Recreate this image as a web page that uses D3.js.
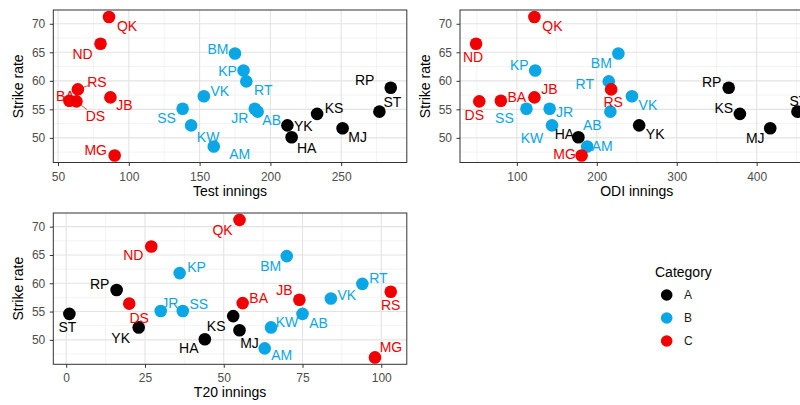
<!DOCTYPE html>
<html>
<head>
<meta charset="utf-8">
<script src="https://cdn.jsdelivr.net/npm/d3@7"></script>
<style>
  body { margin: 0; background: #fff; }
  svg { font-family: "Liberation Sans", Arial, sans-serif; display: block; }
</style>
</head>
<body>
<div id="container"></div>
<script>
// player data
const players    = ["QK","ND","BM","KP","RT","RP","RS","VK","JB","BA","DS","SS","JR","AB","ST","KS","YK","KW","MJ","HA","AM","MG"]
const category   = ["C","C","B","B","B","A","C","B","C","C","C","B","B","B","A","A","A","B","A","A","B","C"]
const strikeRate = [71.2,66.5,64.8,61.8,59.9,58.8,58.5,57.3,57.1,56.5,56.4,55.1,55.1,54.6,54.6,54.2,52.2,52.2,51.7,50.1,48.5,46.9]
const testInnings = [86,80,175,181,183,285,64,153,87,58,63,138,189,191,277,233,212,144,251,215,160,90]
const odiInnings  = [122,49,227,123,215,365,218,244,122,80,53,112,141,217,451,379,253,144,417,177,188,181]
const t20Innings  = [55,27,70,36,94,16,103,84,74,56,20,37,30,75,1,53,23,65,55,44,63,98]

const categories = ["A","B","C"]
const yTicks = [50,55,60,65,70]
const testTicks = [50,100,150,200,250]
const odiTicks = [100,200,300,400]
const t20Ticks = [0,25,50,75,100]

const colors = ["#000000","#0aa6e6","#f00000"]
const colorScale = d3.scaleOrdinal().domain(categories).range(colors)

// label offsets (px from the point centre), like the repelled labels
const testLabels = {QK:[18,9],ND:[-18,10],RS:[19,-7],BA:[-4,-5],DS:[19,15],JB:[14,8],MG:[-19,-6],
  BM:[-17,-4],KP:[-16,0],RT:[17,9],VK:[16,-5],SS:[-16,9],KW:[17,12],AM:[26,8],JR:[-15,9],AB:[14,8],
  YK:[16,1],HA:[15,11],KS:[17,-6],MJ:[15,9],ST:[13,-10],RP:[-26,-8]}
const odiLabels = {ND:[-3,13],DS:[-5,14],BA:[16,-4],QK:[18,9],JB:[15,-8],KP:[-16,-6],SS:[-22,9],
  JR:[15,3],KW:[-20,13],HA:[-14,-3],MG:[-17,-2],AM:[15,0],AB:[-18,13],RT:[-24,3],RS:[2,13],BM:[-17,10],
  VK:[16,9],YK:[16,9],RP:[-17,-6],KS:[-16,-6],MJ:[-15,10],ST:[1,-11]}
const t20Labels = {ST:[-2,13],RP:[-17,-6],DS:[10,14],YK:[-18,11],ND:[-18,9],JR:[9,-8],KP:[17,-6],
  SS:[16,-7],HA:[-16,9],KS:[-17,10],QK:[-17,10],MJ:[10,13],BA:[16,-5],AM:[17,7],BM:[-16,10],KW:[16,-5],
  JB:[-15,-10],AB:[16,9],VK:[16,-4],RT:[16,-6],MG:[16,-10],RS:[0,13]}

const svg = d3.select("#container").append("svg")
    .attr("width", 800)
    .attr("height", 405)

const panels = [
    {values: testInnings, ticks: testTicks, title: "Test innings", labels: testLabels, left: 53.3, top: 10, height: 152.5, segments: ["DS","RS"]},
    {values: odiInnings, ticks: odiTicks, title: "ODI innings", labels: odiLabels, left: 460, top: 10, height: 152.5, segments: []},
    {values: t20Innings, ticks: t20Ticks, title: "T20 innings", labels: t20Labels, left: 53.3, top: 213, height: 151.3, segments: []}
]
const panelWidth = 353.5

function expand(ext){
    const pad = (ext[1] - ext[0]) * 0.05
    return [ext[0] - pad, ext[1] + pad]
}

panels.forEach(p => drawPanel(p))

function drawPanel(p){
    const x = d3.scaleLinear().domain(expand(d3.extent(p.values))).range([p.left, p.left + panelWidth])
    const y = d3.scaleLinear().domain(expand(d3.extent(strikeRate))).range([p.top + p.height, p.top])
    const g = svg.append("g")

    const clipId = "clip" + Math.round(p.left) + "_" + Math.round(p.top)
    g.append("clipPath").attr("id", clipId)
        .append("rect").attr("x", p.left).attr("y", p.top).attr("width", panelWidth).attr("height", p.height)

    const step = p.ticks[1] - p.ticks[0]
    const xMinor = d3.range(p.ticks[0] - step / 2, x.domain()[1], step).filter(v => v > x.domain()[0])
    const yMinor = d3.range(47.5, 72.5, 5).filter(v => v < y.domain()[1])

    const grid = g.append("g").attr("clip-path", `url(#${clipId})`)
    grid.selectAll(".xminor").data(xMinor).enter().append("line")
        .attr("x1", d => x(d)).attr("x2", d => x(d)).attr("y1", p.top).attr("y2", p.top + p.height)
        .attr("stroke", "#ebebeb").attr("stroke-width", 0.6)
    grid.selectAll(".yminor").data(yMinor).enter().append("line")
        .attr("x1", p.left).attr("x2", p.left + panelWidth).attr("y1", d => y(d)).attr("y2", d => y(d))
        .attr("stroke", "#ebebeb").attr("stroke-width", 0.6)
    grid.selectAll(".xmajor").data(p.ticks).enter().append("line")
        .attr("x1", d => x(d)).attr("x2", d => x(d)).attr("y1", p.top).attr("y2", p.top + p.height)
        .attr("stroke", "#e3e3e3").attr("stroke-width", 1.1)
    grid.selectAll(".ymajor").data(yTicks).enter().append("line")
        .attr("x1", p.left).attr("x2", p.left + panelWidth).attr("y1", d => y(d)).attr("y2", d => y(d))
        .attr("stroke", "#e3e3e3").attr("stroke-width", 1.1)

    // axes
    const xAxis = g.append("g").attr("transform", `translate(0,${p.top + p.height})`)
        .call(d3.axisBottom(x).tickValues(p.ticks).tickSize(3.5).tickPadding(6))
    const yAxis = g.append("g").attr("transform", `translate(${p.left},0)`)
        .call(d3.axisLeft(y).tickValues(yTicks).tickSize(3.5).tickPadding(4.5))
    ;[xAxis, yAxis].forEach(a => {
        a.select(".domain").remove()
        a.selectAll("line").attr("stroke", "#333")
        a.selectAll("text").attr("fill", "#4d4d4d").style("font-size", "12px").style("font-family", "Liberation Sans, Arial, sans-serif")
    })

    const marks = g.append("g").attr("clip-path", `url(#${clipId})`)
    const idx = d3.range(players.length)

    // repel segments
    marks.selectAll(".seg").data(idx.filter(i => p.segments.includes(players[i]))).enter().append("line")
        .attr("x1", i => x(p.values[i]) + p.labels[players[i]][0] * 0.25)
        .attr("y1", i => y(strikeRate[i]) + p.labels[players[i]][1] * 0.25)
        .attr("x2", i => x(p.values[i]) + p.labels[players[i]][0] * 0.55)
        .attr("y2", i => y(strikeRate[i]) + p.labels[players[i]][1] * 0.55)
        .attr("stroke", i => colorScale(category[i])).attr("stroke-width", 0.7)

    marks.selectAll("circle").data(idx).enter().append("circle")
        .attr("cx", i => x(p.values[i]))
        .attr("cy", i => y(strikeRate[i]))
        .attr("r", 6.3)
        .attr("fill", i => colorScale(category[i]))

    marks.selectAll(".lbl").data(idx).enter().append("text")
        .attr("x", i => x(p.values[i]) + p.labels[players[i]][0])
        .attr("y", i => y(strikeRate[i]) + p.labels[players[i]][1])
        .attr("text-anchor", "middle")
        .attr("dominant-baseline", "central")
        .style("font-size", "14px")
        .attr("fill", i => colorScale(category[i]))
        .text(i => players[i])

    g.append("rect")
        .attr("x", p.left).attr("y", p.top).attr("width", panelWidth).attr("height", p.height)
        .attr("fill", "none").attr("stroke", "#333").attr("stroke-width", 1)

    g.append("text")
        .attr("x", p.left + panelWidth / 2).attr("y", p.top + p.height + 33)
        .attr("text-anchor", "middle").style("font-size", "14px")
        .text(p.title)

    g.append("text")
        .attr("transform", `translate(${p.left - 30},${p.top + p.height / 2}) rotate(-90)`)
        .attr("text-anchor", "middle").style("font-size", "14px")
        .text("Strike rate")
}

// legend
const legend = svg.append("g")
legend.append("text").attr("x", 655).attr("y", 277).style("font-size", "14px").text("Category")
const keys = legend.selectAll(".key").data(categories).enter().append("g")
keys.append("circle")
    .attr("cx", 666.7).attr("cy", (d, i) => 295 + i * 23).attr("r", 5.8)
    .attr("fill", d => colorScale(d))
keys.append("text")
    .attr("x", 684).attr("y", (d, i) => 299 + i * 23)
    .style("font-size", "12px").attr("fill", "#1a1a1a")
    .text(d => d)
</script>
</body>
</html>
